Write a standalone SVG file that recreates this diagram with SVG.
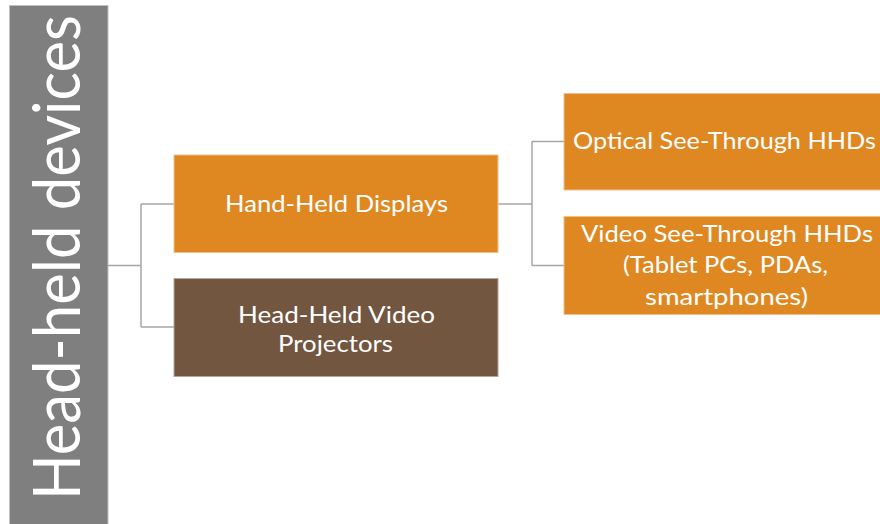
<svg xmlns="http://www.w3.org/2000/svg" width="880" height="524" viewBox="0 0 880 524">
  <style>
    .lbl { font-family: Lato, "Open Sans", "Liberation Sans", sans-serif; font-size: 24px; fill: #ffffff; }
    .title { font-family: Lato, "Open Sans", "Liberation Sans", sans-serif; font-size: 66px; fill: #ffffff; }
    .orange { fill: #DF8822; stroke: #F2C08A; stroke-width: 1; }
    .brown { fill: #735640; stroke: #B8A595; stroke-width: 1; }
    .link { fill: none; stroke: #A6A6A6; stroke-width: 1.5; }
  </style>
  <rect width="880" height="524" fill="#ffffff"/>

  <!-- root: vertical title bar -->
  <g id="root">
    <rect x="9.5" y="5.5" width="98.5" height="520" fill="#7F7F7F" stroke="#BFBFBF" stroke-width="1"/>
    <text class="title" transform="translate(80,500) rotate(-90)" textLength="485" lengthAdjust="spacingAndGlyphs">Head-held devices</text>
  </g>

  <!-- connectors -->
  <g id="connectors">
    <path class="link" d="M108,265.5 H141 M141,204 V327 M141,204 H174 M141,327 H174"/>
    <path class="link" d="M498,204 H532 M532,141.5 V265.5 M532,141.5 H564 M532,265.5 H564"/>
  </g>

  <g id="hand-held-displays">
    <rect class="orange" x="174" y="155" width="324" height="97.5"/>
    <text class="lbl" x="225" y="211.5" textLength="223" lengthAdjust="spacingAndGlyphs">Hand-Held Displays</text>
  </g>

  <g id="head-held-projectors">
    <rect class="brown" x="174" y="278.5" width="324" height="98"/>
    <text class="lbl" x="238" y="322.7" textLength="197" lengthAdjust="spacingAndGlyphs">Head-Held Video</text>
    <text class="lbl" x="278" y="351.7" textLength="115" lengthAdjust="spacingAndGlyphs">Projectors</text>
  </g>

  <g id="optical-see-through">
    <rect class="orange" x="564" y="93.5" width="324" height="96.5"/>
    <text class="lbl" x="573" y="149.3" textLength="303" lengthAdjust="spacingAndGlyphs">Optical See-Through HHDs</text>
  </g>

  <g id="video-see-through">
    <rect class="orange" x="564" y="216.5" width="324" height="98"/>
    <text class="lbl" x="581" y="241.7" textLength="292" lengthAdjust="spacingAndGlyphs">Video See-Through HHDs</text>
    <text class="lbl" x="623" y="273.3" textLength="205" lengthAdjust="spacingAndGlyphs">(Tablet PCs, PDAs,</text>
    <text class="lbl" x="645" y="305" textLength="163" lengthAdjust="spacingAndGlyphs">smartphones)</text>
  </g>
</svg>
